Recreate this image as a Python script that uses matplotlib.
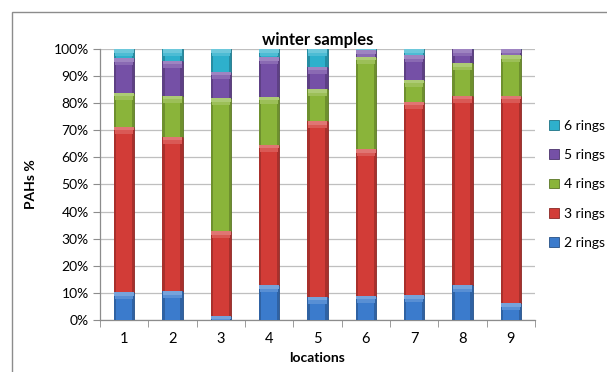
import matplotlib
matplotlib.use("Agg")
import matplotlib.pyplot as plt
from matplotlib.patches import Rectangle
from matplotlib.ticker import PercentFormatter, FixedLocator
import matplotlib.colors as mcolors
import numpy as np

plt.rcParams['font.family'] = ['Lato', 'DejaVu Sans']

locations = ['1', '2', '3', '4', '5', '6', '7', '8', '9']
rings_2 = [10.3, 10.7, 1.5, 12.8, 8.6, 8.9, 9.2, 12.9, 6.2]
rings_3 = [61.0, 56.9, 31.3, 51.8, 64.8, 54.1, 71.4, 69.8, 76.6]
rings_4 = [12.6, 15.1, 49.1, 17.7, 11.7, 34.2, 8.0, 12.0, 14.9]
rings_5 = [12.7, 13.0, 9.7, 14.6, 8.4, 2.3, 9.1, 5.3, 2.3]
rings_6 = [3.4, 4.3, 8.4, 3.1, 6.5, 0.5, 2.3, 0.0, 0.0]

series = [
    ('2 rings', rings_2, '#3b7bcc'),
    ('3 rings', rings_3, '#d23c37'),
    ('4 rings', rings_4, '#8ab43a'),
    ('5 rings', rings_5, '#7550a6'),
    ('6 rings', rings_6, '#2eb0cc'),
]

fig = plt.figure(figsize=(6.07, 3.72), dpi=100)
ax = fig.add_axes([0.1647, 0.1398, 0.8814 - 0.1647, 0.8683 - 0.1398])

x = np.arange(len(locations))
width = 0.42
bottom = np.zeros(len(locations))
handles = []


def shade(c, f):
    r, g, b = mcolors.to_rgb(c)
    if f >= 0:
        return (r + (1 - r) * f, g + (1 - g) * f, b + (1 - b) * f)
    return (r * (1 + f), g * (1 + f), b * (1 + f))


for name, vals, col in series:
    vals = np.array(vals, dtype=float)
    h = ax.bar(x, vals, width, bottom=bottom, color=col,
               edgecolor=shade(col, -0.35), linewidth=0.6, zorder=3, label=name)
    # darker side faces
    side = width * 0.12
    ax.bar(x - width / 2 + side / 2, vals, side, bottom=bottom,
           color=shade(col, -0.2), linewidth=0, zorder=3.2)
    ax.bar(x + width / 2 - side / 2, vals, side, bottom=bottom,
           color=shade(col, -0.2), linewidth=0, zorder=3.2)
    # lighter top bevel, fading downwards
    hl = np.minimum(vals, 2.6)
    ax.bar(x, hl, width * 0.9, bottom=bottom + vals - hl,
           color=shade(col, 0.15), linewidth=0, zorder=3.4)
    hl2 = np.minimum(vals, 1.3)
    ax.bar(x, hl2, width * 0.96, bottom=bottom + vals - hl2,
           color=shade(col, 0.3), linewidth=0, zorder=3.5)
    handles.append(h)
    bottom = bottom + vals

ax.set_ylim(0, 100)
ax.set_xlim(-0.5, len(locations) - 0.5)
ax.yaxis.set_major_locator(FixedLocator(np.arange(0, 101, 10)))
ax.yaxis.set_major_formatter(PercentFormatter(decimals=0))
ax.set_xticks(x)
ax.set_xticklabels(locations)
ax.set_xticks(np.arange(-0.5, len(locations), 1.0), minor=True)

ax.grid(axis='y', color='#bfbfbf', linewidth=0.9, zorder=0)
ax.set_axisbelow(True)
for s in ['top', 'right']:
    ax.spines[s].set_visible(False)
for s in ['left', 'bottom']:
    ax.spines[s].set_color('#8c8c8c')
    ax.spines[s].set_linewidth(0.9)

ax.tick_params(axis='y', length=5, color='#8c8c8c', labelsize=10, pad=3)
ax.tick_params(axis='x', which='major', length=0, labelsize=10.5, pad=9)
ax.tick_params(axis='x', which='minor', length=5, color='#8c8c8c')

ax.set_title('winter samples', fontsize=12, fontweight='bold', pad=3)
ax.set_xlabel('locations', fontsize=10, fontweight='bold', labelpad=4)
ax.set_ylabel('PAHs %', fontsize=10, fontweight='bold', labelpad=12)

leg = ax.legend(handles[::-1], [s[0] for s in series][::-1],
                loc='center left', bbox_to_anchor=(1.02, 0.5),
                frameon=False, fontsize=10, handlelength=0.7,
                handleheight=0.7, handletextpad=0.35, labelspacing=1.25,
                borderaxespad=0)

fig.patches.append(Rectangle((12 / 607, -0.2), 1.2, 0.2 + 1 - 12 / 372,
                             transform=fig.transFigure, fill=False,
                             edgecolor='#8c8c8c', linewidth=1.0))

fig.savefig('out.png', dpi=100)
